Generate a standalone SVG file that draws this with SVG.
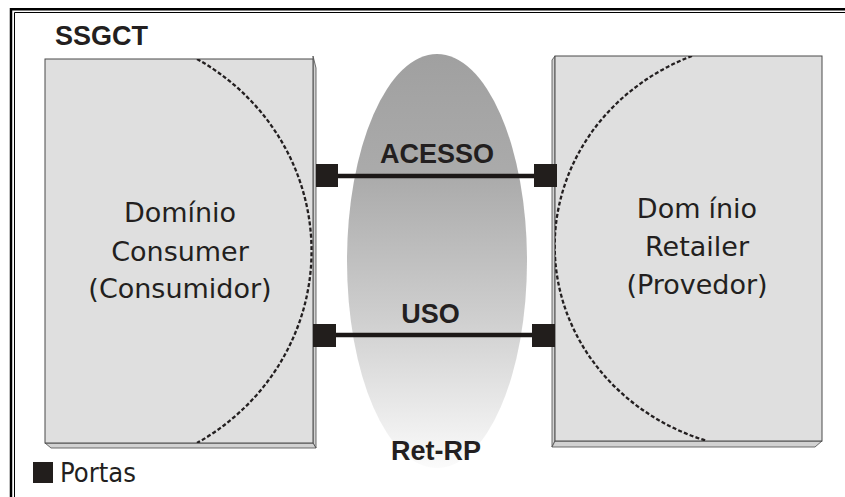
<svg xmlns="http://www.w3.org/2000/svg" width="845" height="497" viewBox="0 0 845 497">
  <defs>
    <linearGradient id="netFill" x1="0" y1="0" x2="0" y2="1">
      <stop offset="0" stop-color="#a0a0a0"/>
      <stop offset="0.3" stop-color="#ababab"/>
      <stop offset="0.65" stop-color="#d0d0d0"/>
      <stop offset="1" stop-color="#fbfbfb"/>
    </linearGradient>
    <clipPath id="clipLeft"><rect x="45" y="59" width="268" height="384"/></clipPath>
    <clipPath id="clipRight"><rect x="555" y="56" width="267" height="385"/></clipPath>
  </defs>
  <style>
    .face { fill: #dfdfdf; stroke: #4a4a4a; stroke-width: 1; }
    .bevel { fill: #d2d2d2; stroke: #4a4a4a; stroke-width: 0.8; }
    .scope { fill: none; stroke: #231f20; stroke-width: 2.3; stroke-dasharray: 4 2.2; }
    .port { fill: #221e1c; }
    .link { stroke: #1c1817; stroke-width: 4.5; }
    .bold { font-family: "Liberation Sans", Arial, sans-serif; font-weight: bold; font-size: 27px; fill: #231f20; }
    .dom { font-family: "DejaVu Sans", sans-serif; font-size: 27px; fill: #231f20; }
    .mid { text-anchor: middle; }
  </style>

  <rect width="845" height="497" fill="#ffffff"/>

  <!-- double frame, open to the right and bottom -->
  <g id="frame" fill="none" stroke="#000">
    <path d="M11,500 V9.25 H850" stroke-width="2.5"/>
    <path d="M14.5,500 V12.5 H850" stroke-width="1"/>
  </g>

  <text class="bold" x="55" y="45">SSGCT</text>

  <!-- consumer domain slab -->
  <g id="consumer">
    <polygon class="bevel" points="313,56 316,68 316,448 313,443"/>
    <polygon class="bevel" points="45,443 313,443 316,448 51,448"/>
    <rect class="face" x="45" y="59" width="268" height="384"/>
    <path class="scope" clip-path="url(#clipLeft)" d="M197,59 A230,222 0 0 1 197,443"/>
    <text class="dom mid" x="180" y="222">Domínio</text>
    <text class="dom mid" x="180" y="261">Consumer</text>
    <text class="dom mid" x="180" y="298">(Consumidor)</text>
  </g>

  <!-- retailer domain slab -->
  <g id="retailer">
    <polygon class="bevel" points="555,56 552,60 552,447 555,441"/>
    <polygon class="bevel" points="555,441 822,441 815,447 552,447"/>
    <rect class="face" x="555" y="56" width="267" height="385"/>
    <path class="scope" clip-path="url(#clipRight)" d="M692,56 A220,205 0 0 0 707,441"/>
    <text class="dom mid" x="697" y="218">Dom<tspan dx="8">ínio</tspan></text>
    <text class="dom mid" x="697" y="256">Retailer</text>
    <text class="dom mid" x="697" y="294">(Provedor)</text>
  </g>

  <!-- Ret-RP network -->
  <g id="ret-rp">
    <ellipse cx="437" cy="261" rx="90" ry="207" fill="url(#netFill)"/>
    <text class="bold mid" x="436" y="460">Ret-RP</text>
  </g>

  <!-- reference points -->
  <g id="connectors">
    <line class="link" x1="338" y1="176" x2="534" y2="176"/>
    <line class="link" x1="336" y1="335" x2="532" y2="335"/>
  </g>
  <g id="acesso">
    <rect class="port" x="316" y="164" width="22" height="23"/>
    <rect class="port" x="534" y="164" width="23" height="23"/>
    <text class="bold mid" x="437" y="163">ACESSO</text>
  </g>
  <g id="uso">
    <rect class="port" x="313" y="324" width="23" height="23"/>
    <rect class="port" x="532" y="324" width="23" height="23"/>
    <text class="bold mid" x="430.5" y="323">USO</text>
  </g>

  <!-- legend -->
  <g id="legend">
    <rect class="port" x="33" y="462" width="20" height="21"/>
    <text class="dom" x="60" y="482" textLength="76" lengthAdjust="spacingAndGlyphs">Portas</text>
  </g>
</svg>
